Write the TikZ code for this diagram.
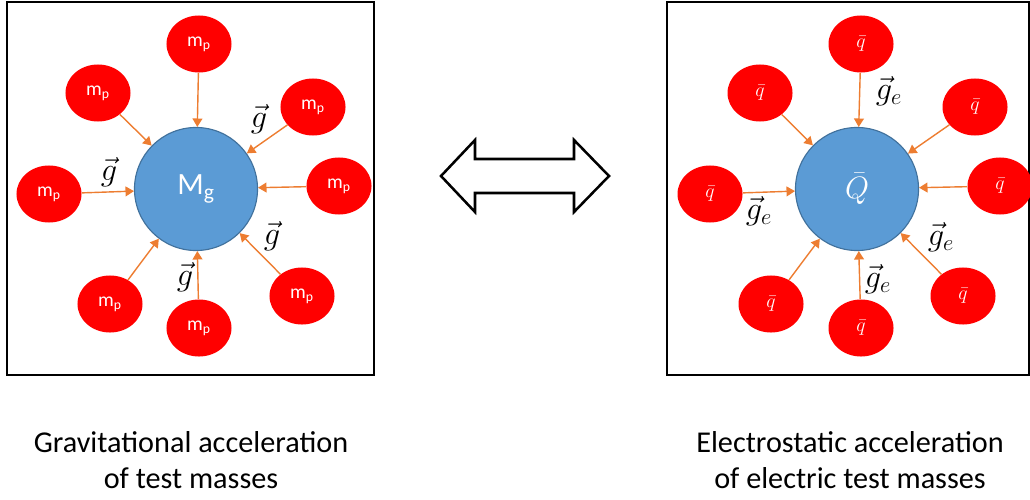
\RequirePackage{fix-cm}
\documentclass[tikz,border=0pt]{standalone}
\usepackage{fontspec}
\setmainfont{Carlito}
\usetikzlibrary{shapes, arrows.meta, positioning}

\definecolor{massred}{HTML}{FF0000}
\definecolor{massblue}{HTML}{5B9BD5}
\definecolor{massedge}{HTML}{41719C}
\definecolor{pullorange}{HTML}{ED7D31}

\tikzset{
    testmass/.style={ellipse, fill=massred, minimum width=1.625cm, minimum height=1.425cm, inner sep=0pt, text=white, font=\fontsize{14}{16}\selectfont},
    bigmass/.style={circle, fill=massblue, draw=massedge, line width=0.8pt, minimum size=3.075cm, inner sep=0pt, text=white, font=\fontsize{22}{26}\selectfont},
    pull/.style={draw=pullorange, line width=1pt, -{Triangle[length=6pt, width=7pt]}},
    fieldlabel/.style={inner sep=0pt, font=\fontsize{23}{27}\selectfont},
    caption/.style={align=center, font=\fontsize{21.5}{25.5}\selectfont}
}

\begin{document}
\begin{tikzpicture}[x=0.025cm, y=-0.025cm]
        \useasboundingbox (0,0) rectangle (1030,499);

        % Frames
        \draw[line width=1pt] (7,2) rectangle (374,375);
        \draw[line width=1pt] (667,2) rectangle (1029,375);

        % Gravitational panel
        \node[bigmass] (Mg) at (196,189) {M\textsubscript{g}};
        \node[testmass] (mpT)  at (199,44)  {m\textsubscript{p}};
        \node[testmass] (mpUL) at (98,93)   {m\textsubscript{p}};
        \node[testmass] (mpUR) at (313,107) {m\textsubscript{p}};
        \node[testmass] (mpL)  at (49,194)  {m\textsubscript{p}};
        \node[testmass] (mpR)  at (339,186) {m\textsubscript{p}};
        \node[testmass] (mpLR) at (302,296) {m\textsubscript{p}};
        \node[testmass] (mpB)  at (199,328) {m\textsubscript{p}};
        \node[testmass] (mpLL) at (110,304) {m\textsubscript{p}};
        \foreach \m in {mpT, mpUL, mpUR, mpL, mpR, mpLR, mpB, mpLL}
            \draw[pull] (\m) -- (Mg);
        \node[fieldlabel] (gUR) at (259,119) {$\vec{g}$};
        \node[fieldlabel] (gL)  at (109,172) {$\vec{g}$};
        \node[fieldlabel] (gLR) at (272,236) {$\vec{g}$};
        \node[fieldlabel] (gB)  at (185,277) {$\vec{g}$};

        % Equivalence arrow
        \draw[line width=1.8pt, miter limit=10] (441,176) -- (475,140) -- (475,159) -- (574,159) -- (574,140) -- (609,176)
            -- (574,212) -- (574,193) -- (475,193) -- (475,212) -- cycle;

        % Electrostatic panel
        \node[bigmass] (Qe) at (857,189) {$\bar{Q}$};
        \node[testmass] (qT)  at (861,44)  {$\bar{q}$};
        \node[testmass] (qUL) at (760,93)  {$\bar{q}$};
        \node[testmass] (qUR) at (975,107) {$\bar{q}$};
        \node[testmass] (qL)  at (710,194) {$\bar{q}$};
        \node[testmass] (qR)  at (1000,186) {$\bar{q}$};
        \node[testmass] (qLR) at (963,296) {$\bar{q}$};
        \node[testmass] (qB)  at (861,328) {$\bar{q}$};
        \node[testmass] (qLL) at (771,304) {$\bar{q}$};
        \foreach \q in {qT, qUL, qUR, qL, qR, qLR, qB, qLL}
            \draw[pull] (\q) -- (Qe);
        \node[fieldlabel] (geT)  at (889,91)  {$\vec{g}_e$};
        \node[fieldlabel] (geL)  at (759,211) {$\vec{g}_e$};
        \node[fieldlabel] (geLR) at (941,237) {$\vec{g}_e$};
        \node[fieldlabel] (geB)  at (878,279) {$\vec{g}_e$};

        % Captions
        \node[caption] (capG) at (191,460) {Gravitational acceleration\\of test masses};
        \node[caption] (capE) at (850,460) {Electrostatic acceleration\\of electric test masses};
    \end{tikzpicture}
\end{document}
